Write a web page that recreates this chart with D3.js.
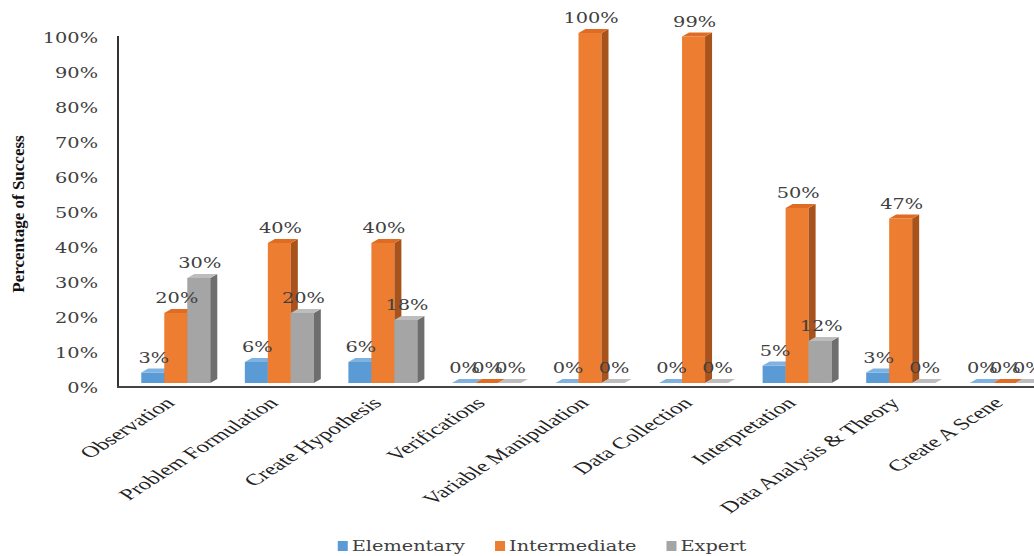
<!DOCTYPE html>
<html>
<head>
<meta charset="utf-8">
<script src="https://cdn.jsdelivr.net/npm/d3@7"></script>
<style>
  body { margin: 0; background: #fff; }
  svg { display: block; }
</style>
</head>
<body>
<div id="chart"></div>
<script>
// science process skills - 3d style grouped bars

var categories = ["Observation", "Problem Formulation", "Create Hypothesis", "Verifications",
    "Variable Manipulation", "Data Collection", "Interpretation", "Data Analysis & Theory", "Create A Scene"];
var seriesNames = ["Elementary", "Intermediate", "Expert"];
var elementary = [3, 6, 6, 0, 0, 0, 5, 3, 0];
var intermediate = [20, 40, 40, 0, 100, 99, 50, 47, 0];
var expert = [30, 20, 18, 0, 0, 0, 12, 0, 0];
var yTicks = [0, 10, 20, 30, 40, 50, 60, 70, 80, 90, 100];

var param = {
    width: 1034,
    height: 556,
    barW: 23,
    depthX: 7,
    depthY: 4,
    stretch: 1.38
};

var colors = {
    Elementary: { front: "#5b9bd5", side: "#3d6f9e", top: "#7fb2e0" },
    Intermediate: { front: "#ed7d31", side: "#a8531c", top: "#e06c24" },
    Expert: { front: "#a5a5a5", side: "#6e6e6e", top: "#bdbdbd" }
};

var seriesData = {
    Elementary: elementary,
    Intermediate: intermediate,
    Expert: expert
};

var svg = d3.select("#chart").append("svg")
    .attr("width", param.width)
    .attr("height", param.height);

var x = d3.scaleBand().domain(categories).range([124, 1056]);
var xs = d3.scaleBand().domain(seriesNames).range([-34.5, 34.5]);
var y = d3.scaleLinear().domain([0, 100]).range([383, 33]);

// y tick labels
var yAxis = svg.append("g")
    .attr("transform", "translate(98,4)")
    .call(d3.axisLeft(y).tickValues(yTicks).tickSize(0).tickPadding(0)
	  .tickFormat(function(d){ return d + "%"; }));
yAxis.select(".domain").remove();
yAxis.selectAll("text")
    .attr("x", 0)
    .attr("dy", "0.36em")
    .attr("transform", "scale(" + param.stretch + ",1)")
    .style("font-family", "'DejaVu Serif', serif")
    .style("font-size", "14px")
    .style("fill", "#404040");

// axis lines
svg.append("line")
    .attr("x1", 118).attr("x2", 118)
    .attr("y1", y(100) + 3).attr("y2", 387)
    .attr("stroke", "#333").attr("stroke-width", 2);
svg.append("line")
    .attr("x1", 117).attr("x2", param.width)
    .attr("y1", 387).attr("y2", 387)
    .attr("stroke", "#444").attr("stroke-width", 2);

// bars
var dx = param.depthX, dy = param.depthY, w = param.barW;
categories.forEach(function(cat, i){
    var g = svg.append("g").attr("class", "group");
    seriesNames.forEach(function(s){
	var v = seriesData[s][i];
	var x0 = x(cat) + x.bandwidth() / 2 + xs(s);
	var top = y(v), base = y(0);
	var c = colors[s];
	g.append("rect")
	    .attr("x", x0).attr("y", top)
	    .attr("width", w).attr("height", base - top)
	    .attr("fill", c.front);
	g.append("polygon")
	    .attr("points", [[x0 + w, top], [x0 + w + dx, top - dy], [x0 + w + dx, base - dy], [x0 + w, base]].join(" "))
	    .attr("fill", c.side);
	g.append("polygon")
	    .attr("points", [[x0, top], [x0 + dx, top - dy], [x0 + w + dx, top - dy], [x0 + w, top]].join(" "))
	    .attr("fill", c.top);
    });
});

// value labels
categories.forEach(function(cat, i){
    seriesNames.forEach(function(s){
	var v = seriesData[s][i];
	var cx = x(cat) + x.bandwidth() / 2 + xs(s) + w / 2 + 1;
	svg.append("text")
	    .attr("transform", "translate(" + cx + "," + (y(v) - 10) + ") scale(" + param.stretch + ",1)")
	    .attr("text-anchor", "middle")
	    .style("font-family", "'DejaVu Serif', serif")
	    .style("font-size", "14px")
	    .style("fill", "#404040")
	    .text(v + "%");
    });
});

// x labels
var xAxis = svg.append("g")
    .attr("transform", "translate(0,387)")
    .call(d3.axisBottom(x).tickSize(0).tickPadding(0));
xAxis.select(".domain").remove();
xAxis.selectAll("text")
    .attr("x", 0).attr("y", 0).attr("dy", 0)
    .attr("text-anchor", "end")
    .attr("transform", "translate(0,17) scale(1.55,1) rotate(-45)")
    .style("font-family", "'Liberation Serif', 'Times New Roman', serif")
    .style("font-size", "16px")
    .style("fill", "#222");

// y title
svg.append("text")
    .attr("transform", "translate(24,214) rotate(-90)")
    .attr("text-anchor", "middle")
    .style("font-family", "'Liberation Serif', 'Times New Roman', serif")
    .style("font-weight", "bold")
    .style("font-size", "17px")
    .style("fill", "#111")
    .text("Percentage of Success");

// legend
var legend = svg.append("g").attr("transform", "translate(0,551)");
var items = legend.selectAll("g.item").data(seriesNames).enter()
    .append("g").attr("class", "item");
items.append("rect")
    .attr("y", -10).attr("width", 10).attr("height", 10)
    .attr("fill", function(d){ return colors[d].front; });
items.append("text")
    .attr("transform", "translate(14,0) scale(" + param.stretch + ",1)")
    .style("font-family", "'DejaVu Serif', serif")
    .style("font-size", "14px")
    .style("fill", "#404040")
    .text(function(d){ return d; });
var widths = [];
items.each(function(){
    widths.push(14 + d3.select(this).select("text").node().getComputedTextLength() * param.stretch);
});
var gap = 30;
var total = d3.sum(widths) + gap * (widths.length - 1);
var cur = 542 - total / 2;
items.attr("transform", function(d, i){
    var t = "translate(" + cur + ",0)";
    cur += widths[i] + gap;
    return t;
});
</script>
</body>
</html>
